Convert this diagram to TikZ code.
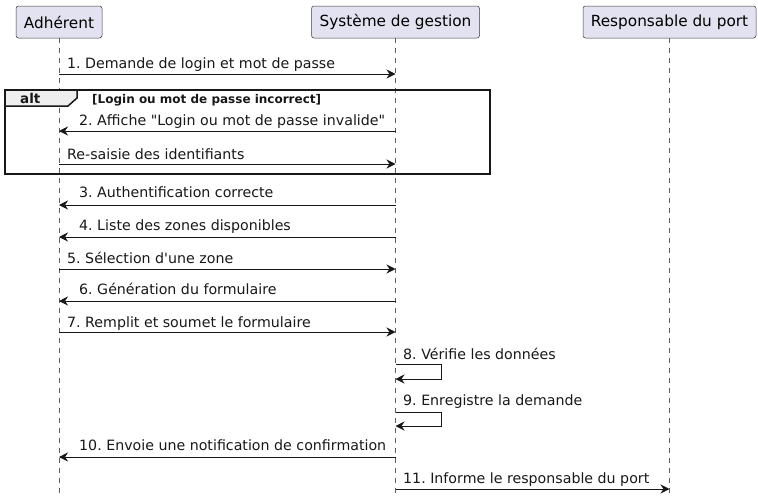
\documentclass[tikz,border=0pt]{standalone}
\usepackage{fontspec}
\setmainfont{DejaVu Sans}
\usetikzlibrary{arrows.meta}
\frenchspacing
\definecolor{partfill}{HTML}{E2E2F0}
\definecolor{ink}{HTML}{181818}
\definecolor{tabfill}{HTML}{EEEEEE}
\tikzset{
  part/.style={draw=ink!85, fill=partfill, rounded corners=2.5pt, line width=0.5pt, minimum height=32pt, inner sep=0pt, font=\fontsize{15.3}{18}\selectfont},
  lifeline/.style={draw=ink!70, line width=0.5pt, dash pattern=on 5pt off 5pt},
  msg/.style={draw=ink, line width=0.8pt, -{Stealth[length=9pt,width=9pt,inset=3pt]}},
  lbl/.style={font=\fontsize{14.2}{17}\selectfont, text=ink, inner sep=0pt, anchor=base west},
  frame/.style={draw=ink, line width=1.5pt},
  cond/.style={font=\bfseries\fontsize{12}{14}\selectfont, text=ink, inner sep=0pt, anchor=base west}
}
\begin{document}
\begin{tikzpicture}[x=1pt,y=-1pt]
\useasboundingbox (0,0) rectangle (758,501);
% participants
\node[part, minimum width=86pt] (A) at (59,22) {Adhérent};
\node[part, minimum width=168pt] (S) at (395.5,22) {Système de gestion};
\node[part, minimum width=173pt] (R) at (669.5,22) {Responsable du port};
\coordinate (bot) at (0,497);
\draw[lifeline] (A.south) -- (A |- bot);
\draw[lifeline] (S.south) -- (S |- bot);
\draw[lifeline] (R.south) -- (R |- bot);
% row coordinates
\coordinate (r1) at (0,74);
\coordinate (r2) at (0,131);
\coordinate (r2b) at (0,164);
\coordinate (r3) at (0,205);
\coordinate (r4) at (0,237);
\coordinate (r5) at (0,269);
\coordinate (r6) at (0,301);
\coordinate (r7) at (0,332);
\coordinate (r8) at (0,364);
\coordinate (r9) at (0,412);
\coordinate (r10) at (0,457);
\coordinate (r11) at (0,489);
% alt frame
\coordinate (fa) at (5,90);
\coordinate (fb) at (490,174);
\draw[frame] (fa) rectangle (fb);
\draw[frame, fill=tabfill] (fa) -- (77,90) -- (77,98) -- (68,106) -- (5,106) -- cycle;
\node[cond, font=\bfseries\fontsize{13.5}{15}\selectfont] (altlbl) at (20,103) {alt};
\node[cond] (condlbl) at (92,103) {[Login ou mot de passe incorrect]};
% messages
\draw[msg] (A |- r1) -- (S |- r1);
\node[lbl] (l1) at (67,68) {1. Demande de login et mot de passe};
\draw[msg] (S |- r2) -- (A |- r2);
\node[lbl] (l2) at (79,125) {2. Affiche \textquotedbl Login ou mot de passe invalide\textquotedbl};
\draw[msg] (A |- r2b) -- (S |- r2b);
\node[lbl] (l2b) at (67,159) {Re-saisie des identifiants};
\draw[msg] (S |- r3) -- (A |- r3);
\node[lbl] (l3) at (79,197) {3. Authentification correcte};
\draw[msg] (S |- r4) -- (A |- r4);
\node[lbl] (l4) at (79,230) {4. Liste des zones disponibles};
\draw[msg] (A |- r5) -- (S |- r5);
\node[lbl] (l5) at (67,263) {5. Sélection d\textquotesingle une zone};
\draw[msg] (S |- r6) -- (A |- r6);
\node[lbl] (l6) at (79,294) {6. Génération du formulaire};
\draw[msg] (A |- r7) -- (S |- r7);
\node[lbl] (l7) at (67,327) {7. Remplit et soumet le formulaire};
% self messages
\coordinate (s8a) at (441,364);
\coordinate (s8b) at (441,379);
\draw[msg] (S |- r8) -- (s8a) -- (s8b) -- (S |- s8b);
\node[lbl] (l8) at (403,359) {8. Vérifie les données};
\coordinate (s9a) at (441,412);
\coordinate (s9b) at (441,426);
\draw[msg] (S |- r9) -- (s9a) -- (s9b) -- (S |- s9b);
\node[lbl] (l9) at (403,405) {9. Enregistre la demande};
\draw[msg] (S |- r10) -- (A |- r10);
\node[lbl] (l10) at (79,450) {10. Envoie une notification de confirmation};
\draw[msg] (S |- r11) -- (R |- r11);
\node[lbl] (l11) at (403,483) {11. Informe le responsable du port};
\end{tikzpicture}
\end{document}
